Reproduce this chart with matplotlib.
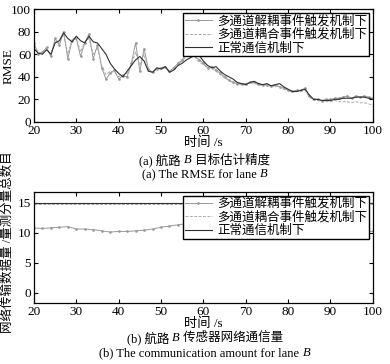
import numpy as np
import matplotlib
matplotlib.use('Agg')
import matplotlib.pyplot as plt

plt.rcParams['font.family'] = ['Liberation Serif', 'Noto Sans CJK SC']

labels = ['多通道解耦事件触发机制下', '多通道耦合事件触发机制下', '正常通信机制下']

# (a) RMSE, one value per second from 20 s to 100 s
t = np.arange(20, 101)
rmse_normal = [65, 61, 60, 64, 60, 70, 72, 79, 74, 71, 76, 72, 70, 76, 71, 70, 65, 60, 52, 47,
               43, 40, 45, 50, 55, 58, 54, 45, 44, 48, 47, 49, 44, 46, 50, 52, 55, 57, 61, 59,
               54, 50, 48, 49, 45, 42, 40, 38, 35, 34, 33, 35, 36, 34, 33, 34, 32, 33, 34, 31,
               29, 27, 27, 28, 29, 24, 20, 20, 19, 19, 19, 20, 20, 21, 21, 21, 22, 22, 22, 21,
               20]
rmse_decoupled = [70, 60, 62, 66, 58, 74, 68, 80, 56, 72, 74, 58, 70, 78, 56, 68, 48, 38, 43, 46,
                  38, 41, 40, 52, 70, 45, 65, 47, 44, 47, 48, 49, 45, 48, 52, 55, 61, 58, 58, 55,
                  52, 48, 49, 46, 43, 40, 37, 35, 34, 34, 34, 35, 35, 34, 33, 33, 32, 33, 31, 30,
                  28, 27, 28, 28, 30, 23, 20, 20, 19, 20, 20, 21, 21, 22, 23, 21, 23, 22, 23, 22,
                  21]
rmse_coupled = [68, 62, 61, 65, 59, 72, 70, 78, 60, 73, 75, 62, 71, 74, 60, 66, 50, 42, 45, 44,
                40, 42, 43, 51, 62, 50, 60, 46, 44, 47, 47, 48, 45, 47, 51, 54, 58, 59, 58, 53,
                51, 48, 47, 45, 42, 39, 37, 35, 34, 33, 33, 35, 34, 33, 32, 33, 31, 32, 31, 29,
                28, 26, 27, 27, 28, 22, 19, 19, 18, 18, 18, 19, 18, 18, 18, 17, 18, 17, 17, 16,
                15]

# (b) communication amount, one value every 2 s from 20 s to 100 s
t2 = np.arange(20, 101, 2)
comm_normal = [15.0] * len(t2)
comm_coupled = [14.75] * len(t2)
comm_decoupled = [10.8, 10.7, 10.8, 10.9, 11.0, 10.6, 10.6, 10.5, 10.3, 10.1, 10.2, 10.2, 10.3,
                  10.4, 10.6, 10.9, 11.1, 11.3, 11.5, 11.6, 11.8, 11.7, 11.6, 11.4, 11.3, 11.1,
                  11.0, 10.9, 10.8, 10.7, 10.6, 10.6, 10.5, 10.5, 10.4, 10.4, 10.3, 10.3, 10.2,
                  10.2, 10.2]

fig = plt.figure(figsize=(3.9, 3.64), dpi=100)
ax1 = fig.add_axes([0.087, 0.665, 0.869, 0.310])
ax2 = fig.add_axes([0.087, 0.168, 0.869, 0.305])


def draw(ax, x, dec, cou, nor):
    ax.plot(x, dec, color='#999999', lw=0.7, marker='.', ms=1.8, label=labels[0])
    ax.plot(x, cou, color='#aaaaaa', lw=0.7, ls=(0, (3, 1.5)), label=labels[1])
    ax.plot(x, nor, color='#303030', lw=0.8, label=labels[2])
    leg = ax.legend(loc='upper right', fontsize=9, frameon=True, fancybox=False,
                    handlelength=2.2, handletextpad=0.4, borderpad=0.15,
                    labelspacing=0.1, borderaxespad=0.3, framealpha=1)
    leg.get_frame().set_edgecolor('black')
    leg.get_frame().set_linewidth(1.0)
    ax.set_xlim(20, 100)
    ax.set_xticks(np.arange(20, 101, 10))
    ax.tick_params(direction='in', top=True, right=True, labelsize=9.5, length=3, pad=2)
    for s in ax.spines.values():
        s.set_linewidth(0.9)


draw(ax1, t, rmse_decoupled, rmse_coupled, rmse_normal)
ax1.set_ylim(0, 100)
ax1.set_yticks([0, 20, 40, 60, 80, 100])
ax1.set_ylabel('RMSE', fontsize=9.5)
ax1.yaxis.set_label_coords(-0.058, 0.5)
ax1.set_xlabel('时间 /s', fontsize=9.5, labelpad=0)

draw(ax2, t2, comm_decoupled, comm_coupled, comm_normal)
ax2.set_ylim(-1.7, 16.8)
ax2.set_yticks([0, 5, 10, 15])
ax2.set_ylabel('网络传输数据量 /量测分量总数目', fontsize=9)
ax2.yaxis.set_label_coords(-0.058, 0.55)
ax2.set_xlabel('时间 /s', fontsize=9.5, labelpad=0)


def caption(yfrac, parts):
    # parts: list of (text, italic) drawn one after another, centred as a whole
    renderer = fig.canvas.get_renderer()
    objs = []
    for s, it in parts:
        objs.append(fig.text(0, yfrac, s, fontsize=9, va='center',
                             style='italic' if it else 'normal'))
    widths = [o.get_window_extent(renderer).width / fig.bbox.width for o in objs]
    x = 0.525 - sum(widths) / 2
    for o, w in zip(objs, widths):
        o.set_x(x)
        x += w


caption(1 - 160 / 364, [('(a) 航路 ', False), ('B', True), (' 目标估计精度', False)])
caption(1 - 174 / 364, [('(a) The RMSE for lane ', False), ('B', True)])
caption(1 - 338 / 364, [('(b) 航路 ', False), ('B', True), (' 传感器网络通信量', False)])
caption(1 - 353 / 364, [('(b) The communication amount for lane ', False), ('B', True)])

fig.savefig('out.png', dpi=100)
